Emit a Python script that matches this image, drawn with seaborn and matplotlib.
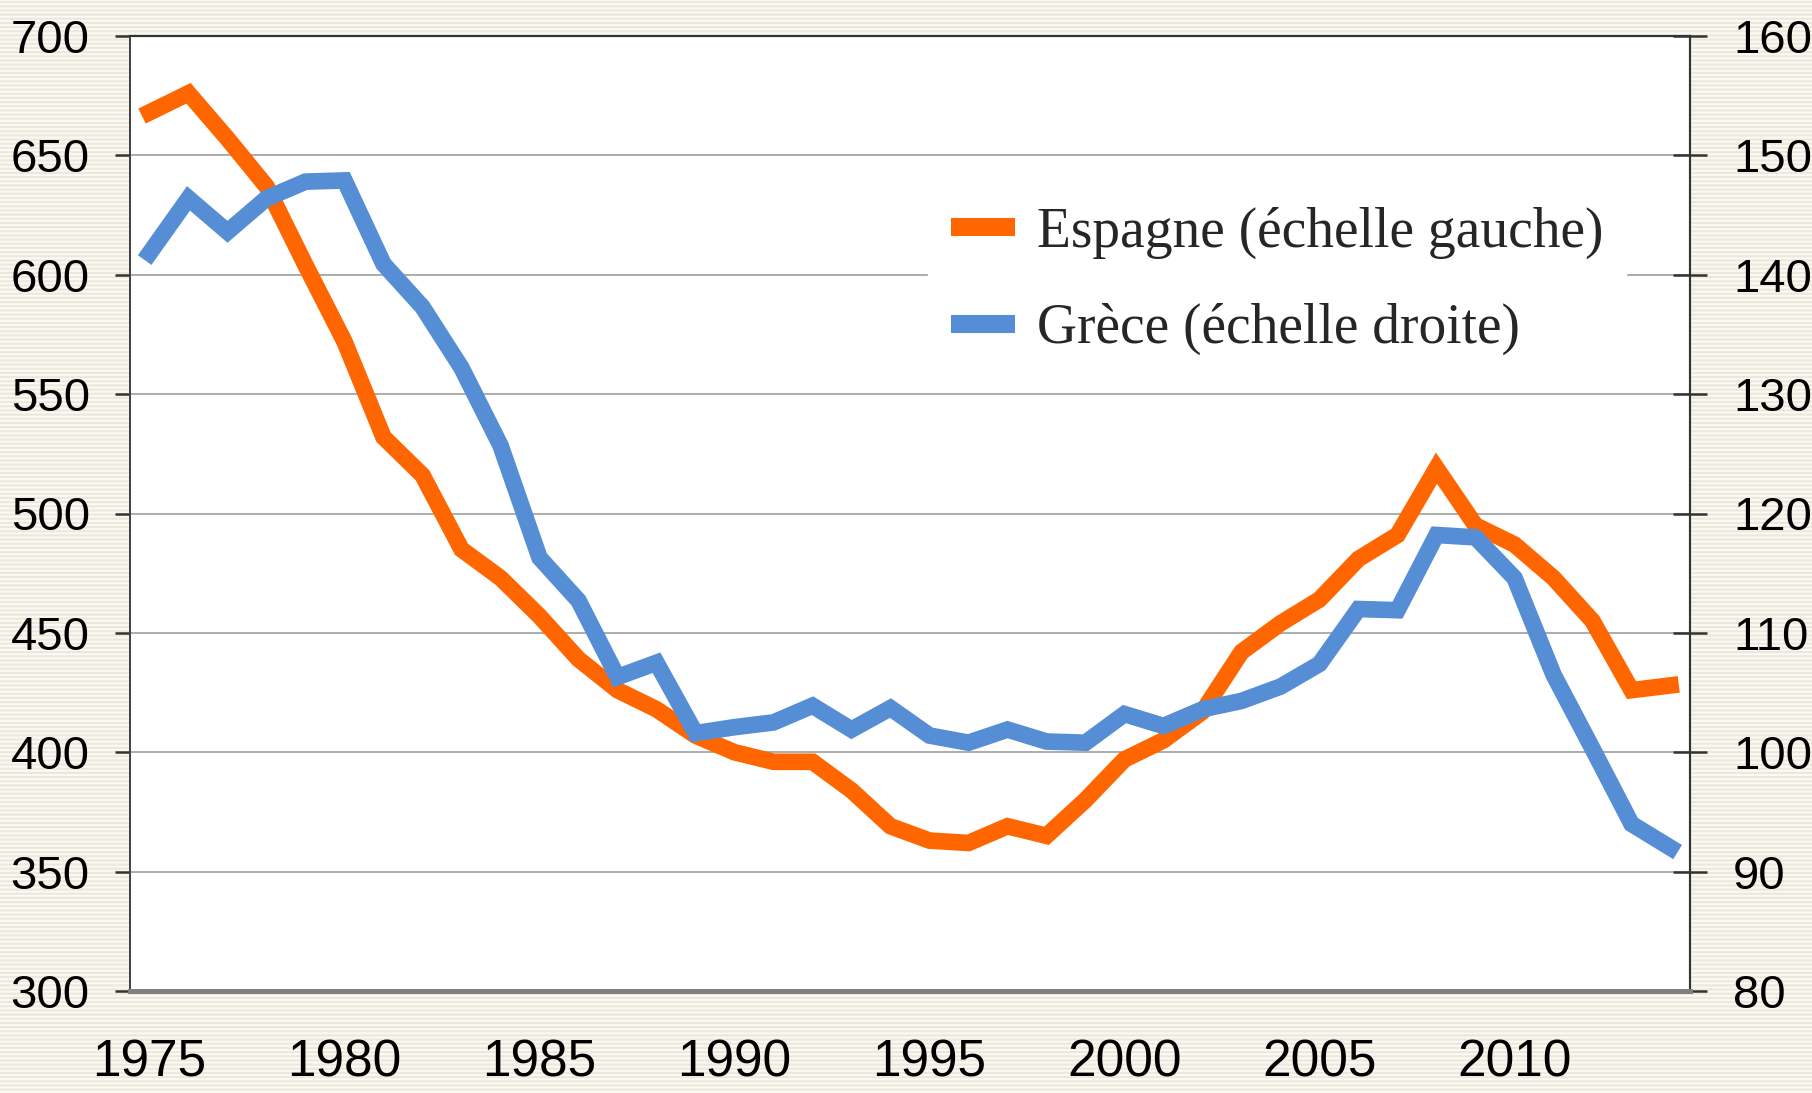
#Add libraries
import numpy as np
import pandas as pd
import matplotlib
matplotlib.use("Agg")
import matplotlib.pyplot as plt
import seaborn as sns
from matplotlib.patches import Rectangle
from matplotlib.ticker import MultipleLocator, FixedLocator

#Data
years = list(range(1975, 2015))
espagne = [668, 676, 657, 637, 604, 572, 532, 516, 485, 473, 457, 439, 426, 418, 407,
           400, 396, 396, 384, 369, 363, 362, 369, 365, 380, 397, 405, 417, 442, 454,
           464, 481, 491, 519, 495, 487, 473, 455, 426, 428]
grece = [141.8, 146.4, 143.6, 146.4, 147.8, 147.9, 140.9, 137.3, 132.2, 125.7, 116.3, 112.7,
         106.3, 107.5, 101.6, 102.1, 102.5, 103.9, 101.9, 103.7, 101.4, 100.8, 101.9, 100.9,
         100.8, 103.2, 102.2, 103.6, 104.3, 105.5, 107.4, 112.0, 111.9, 118.2, 118.0, 114.6,
         106.5, 100.3, 94.0, 92.0]
labels = ["Espagne (échelle gauche)", "Grèce (échelle droite)"]
colors = ["#ff6600", "#558ed5"]

df = pd.DataFrame({"annee": years, "espagne": espagne, "grece": grece})

#Style
sns.set_style("white")
plt.rcParams["font.family"] = ["Liberation Sans", "DejaVu Sans"]
plt.rcParams["hatch.linewidth"] = 1.6
plt.rcParams["hatch.color"] = "#ece9dc"

fig = plt.figure(figsize=(18.12, 10.93), dpi=100)
fig.patch.set_facecolor("#fbfaf5")
#striped background
fig.patches.append(Rectangle((0, 0), 1, 1, transform=fig.transFigure, facecolor="#fbfaf5",
                             edgecolor="#ece9dc", hatch="----", linewidth=0, zorder=-10))

ax = fig.add_axes([130 / 1812, 1 - 991 / 1093, 1560 / 1812, 955 / 1093])
ax.set_facecolor("white")
ax2 = ax.twinx()

sns.lineplot(data=df, x="annee", y="espagne", ax=ax, color=colors[0], linewidth=12,
             solid_joinstyle="miter", solid_capstyle="projecting", label=labels[0], legend=False)
sns.lineplot(data=df, x="annee", y="grece", ax=ax2, color=colors[1], linewidth=12,
             solid_joinstyle="miter", solid_capstyle="projecting", label=labels[1], legend=False)

#Axes limits and ticks
ax.set_xlim(1974.5, 2014.5)
ax.set_ylim(300, 700)
ax2.set_ylim(80, 160)
ax.yaxis.set_major_locator(MultipleLocator(50))
ax2.yaxis.set_major_locator(MultipleLocator(10))
ax.xaxis.set_major_locator(FixedLocator([1975, 1980, 1985, 1990, 1995, 2000, 2005, 2010]))
ax.xaxis.set_minor_locator(FixedLocator(np.arange(1974.5, 2015, 1)))

ax.set_xlabel("")
ax.set_ylabel("")
ax2.set_ylabel("")

ax.yaxis.grid(True, color="#a6a6a6", linewidth=1.3)
ax.set_axisbelow(True)

ax.tick_params(axis="x", which="major", length=0, pad=34, labelsize=37)
ax.tick_params(axis="x", which="minor", direction="out", length=17, width=1.3, color="#222222")
ax.tick_params(axis="y", direction="out", length=11, width=1.8, color="#333333", pad=18, labelsize=34)
ax2.tick_params(axis="y", direction="inout", length=24, width=1.8, color="#333333", pad=19, labelsize=34)
for lab in ax.get_xticklabels() + ax.get_yticklabels() + ax2.get_yticklabels():
    lab.set_color("black")

for a in (ax, ax2):
    a.spines["top"].set_color("#333333")
    a.spines["top"].set_linewidth(1.5)
    a.spines["left"].set_color("#444444")
    a.spines["left"].set_linewidth(1.3)
    a.spines["right"].set_color("#333333")
    a.spines["right"].set_linewidth(1.5)
    a.spines["bottom"].set_color("#808080")
    a.spines["bottom"].set_linewidth(3.5)

#Legend
h1, l1 = ax.get_legend_handles_labels()
h2, l2 = ax2.get_legend_handles_labels()
leg = ax2.legend(h1 + h2, l1 + l2, loc="upper left", bbox_to_anchor=(0.494, 0.874),
                 frameon=True, facecolor="white", edgecolor="white", framealpha=1,
                 fancybox=False, handlelength=1.15, handletextpad=0.41, labelspacing=0.8,
                 prop={"family": "Liberation Serif", "size": 40})
for line in leg.get_lines():
    line.set_linewidth(13)
    line.set_solid_capstyle("butt")

fig.savefig("out.png", dpi=100, facecolor=fig.get_facecolor())
